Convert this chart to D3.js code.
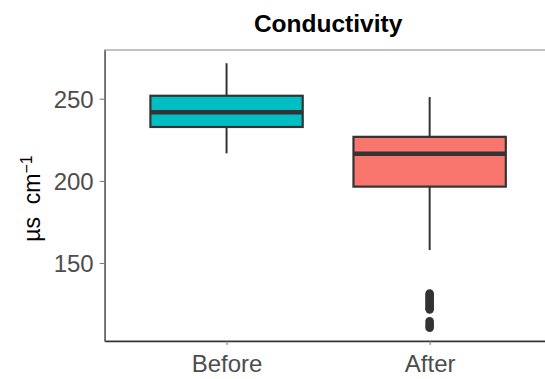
<!DOCTYPE html>
<html>
<head>
<meta charset="utf-8">
<script src="https://cdn.jsdelivr.net/npm/d3@7.9.0/dist/d3.min.js"></script>
<style>
  body { margin: 0; background: #fff; }
  svg { display: block; font-family: "Liberation Sans", Arial, sans-serif; }
</style>
</head>
<body>
<div id="chart"></div>
<script>
// Data (µs cm⁻¹)
const groups = ['Before', 'After'];
const fills = ['#00BFC4', '#F8766D'];
const lowerWhisker = [216.8, 157.9];
const q1 = [232.8, 196.5];
const median = [241.7, 216.5];
const q3 = [251.8, 226.8];
const upperWhisker = [271.6, 251];
const outliersAfter = [131.5, 130.5, 129.5, 128.5, 127.5, 126.5, 125.5, 124.5, 123.5, 122.5, 121.8, 114.5, 113, 111.8, 110.6];
const yTicks = [150, 200, 250];

const width = 545, height = 379;
const panel = { left: 104.7, top: 50, right: 551.5, bottom: 341 };

const svg = d3.select('#chart').append('svg')
  .attr('width', width)
  .attr('height', height);

// y domain with ggplot-like 5% expansion
const lo = d3.min(outliersAfter.concat(lowerWhisker));
const hi = d3.max(upperWhisker);
const pad = (hi - lo) * 0.05;
const y = d3.scaleLinear().domain([lo - pad, hi + pad]).range([panel.bottom, panel.top]);
const x = d3.scalePoint().domain(groups).range([panel.left, panel.right]).padding(0.6);
const boxW = x.step() * 0.75;

// panel border (top / right)
svg.append('rect')
  .attr('x', panel.left).attr('y', panel.top)
  .attr('width', panel.right - panel.left).attr('height', panel.bottom - panel.top)
  .attr('fill', 'none').attr('stroke', '#9a9a9a').attr('stroke-width', 1.2);

// y axis
const yAxis = svg.append('g')
  .attr('transform', `translate(${panel.left},0)`)
  .call(d3.axisLeft(y).tickValues(yTicks).tickSize(5).tickSizeOuter(0).tickPadding(6));
yAxis.select('.domain').attr('stroke', '#555').attr('stroke-width', 1.3);
yAxis.selectAll('.tick line').attr('stroke', '#777').attr('stroke-width', 1);
yAxis.selectAll('.tick text').attr('fill', '#4d4d4d').style('font-size', '24px').attr('dy', '0.36em');

// x axis
const xAxis = svg.append('g')
  .attr('transform', `translate(0,${panel.bottom})`)
  .call(d3.axisBottom(x).tickSize(4).tickSizeOuter(0).tickPadding(10));
xAxis.select('.domain').attr('stroke', '#333').attr('stroke-width', 1.3);
xAxis.selectAll('.tick line').attr('stroke', '#777').attr('stroke-width', 1);
xAxis.selectAll('.tick text').attr('fill', '#4d4d4d').style('font-size', '24px').attr('dy', '0.71em');

// boxes
const boxes = svg.append('g').selectAll('g.box')
  .data(groups)
  .join('g').attr('class', 'box');

boxes.append('line')
  .attr('x1', d => x(d)).attr('x2', d => x(d))
  .attr('y1', (d, i) => y(upperWhisker[i])).attr('y2', (d, i) => y(q3[i]))
  .attr('stroke', '#333').attr('stroke-width', 2);
boxes.append('line')
  .attr('x1', d => x(d)).attr('x2', d => x(d))
  .attr('y1', (d, i) => y(q1[i])).attr('y2', (d, i) => y(lowerWhisker[i]))
  .attr('stroke', '#333').attr('stroke-width', 2);
boxes.append('rect')
  .attr('x', d => x(d) - boxW / 2).attr('width', boxW)
  .attr('y', (d, i) => y(q3[i])).attr('height', (d, i) => y(q1[i]) - y(q3[i]))
  .attr('fill', (d, i) => fills[i]).attr('stroke', '#333').attr('stroke-width', 2.2);
boxes.append('line')
  .attr('x1', d => x(d) - boxW / 2).attr('x2', d => x(d) + boxW / 2)
  .attr('y1', (d, i) => y(median[i])).attr('y2', (d, i) => y(median[i]))
  .attr('stroke', '#333').attr('stroke-width', 4.5);

// outliers
svg.append('g').selectAll('circle')
  .data(outliersAfter)
  .join('circle')
  .attr('cx', x('After'))
  .attr('cy', d => y(d))
  .attr('r', 4.3)
  .attr('fill', '#333');

// title
svg.append('text')
  .attr('x', (panel.left + panel.right) / 2).attr('y', 32)
  .attr('text-anchor', 'middle')
  .style('font-size', '24.5px').style('font-weight', 'bold')
  .text('Conductivity');

// y axis title
const yt = svg.append('text')
  .attr('transform', `translate(40,${(panel.top + panel.bottom) / 2 + 3}) rotate(-90)`)
  .attr('text-anchor', 'middle')
  .style('font-size', '23px').style('white-space', 'pre').attr('fill', '#000');
yt.append('tspan').text('µs  cm');
yt.append('tspan').attr('dy', '-0.5em').style('font-size', '16px').text('−1');
</script>
</body>
</html>
